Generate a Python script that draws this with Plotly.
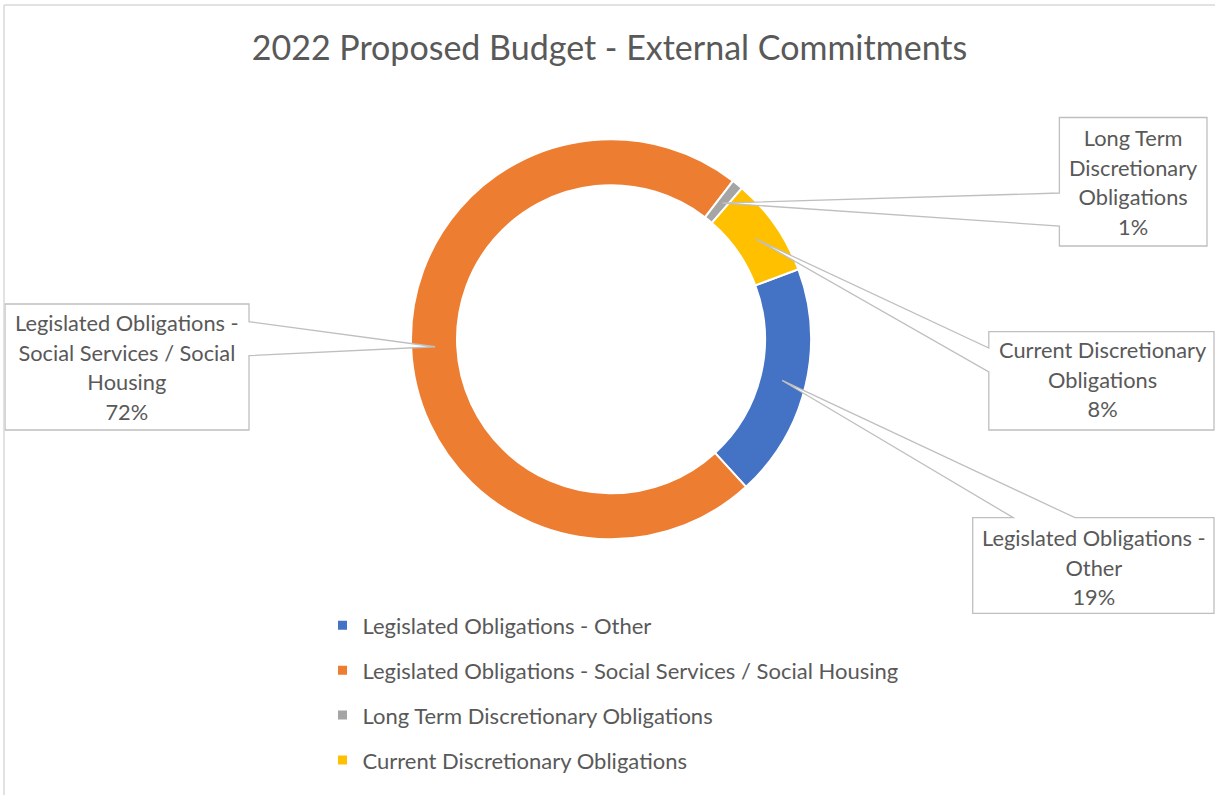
import math
import plotly.graph_objects as go

# ---------------- data ----------------
categories = [
    "Legislated Obligations - Other",
    "Legislated Obligations - Social Services / Social Housing",
    "Long Term Discretionary Obligations",
    "Current Discretionary Obligations",
]
shares = [18.9, 72.25, 0.92, 7.94]
colors = ["#4472C4", "#ED7D31", "#A5A5A5", "#FFC000"]
label_lines = [
    ["Legislated Obligations -", "Other"],
    ["Legislated Obligations -", "Social Services / Social", "Housing"],
    ["Long Term", "Discretionary", "Obligations"],
    ["Current Discretionary", "Obligations"],
]
title_text = "2022 Proposed Budget - External Commitments"

# ---------------- layout constants (pixels) ----------------
W, H = 1215, 795
CX, CY, R_OUT = 611, 339.3, 200
HOLE = 0.77
ROT = 69.5
R_TIP = 176
FONT = "Lato"
TXT = "#595959"
LINE = "#BFBFBF"

# callout boxes: (x0, y0, x1, y1), wedge side, wedge base coordinates, text centre
callouts = [
    dict(box=(972.7, 517.7, 1214, 613.3), side="top", base=(1013.3, 1075), center=(1094, 567)),
    dict(box=(5, 304, 249, 430), side="right", base=(321.7, 355.7), center=(127, 367)),
    dict(box=(1059.4, 117.5, 1207, 246), side="left", base=(193, 226), center=(1133, 182)),
    dict(box=(988.8, 331.6, 1214, 430), side="left", base=(348, 372), center=(1103, 379)),
]


def px(x):
    return x / W


def py(y):
    return 1 - y / H


fig = go.Figure()

fig.add_trace(go.Pie(
    labels=categories,
    values=shares,
    sort=False,
    direction="clockwise",
    rotation=ROT,
    hole=HOLE,
    marker=dict(colors=colors, line=dict(color="white", width=2)),
    textinfo="none",
    showlegend=False,
    domain=dict(x=[px(CX - R_OUT), px(CX + R_OUT)], y=[py(CY + R_OUT), py(CY - R_OUT)]),
))

# legend entries
for cat, col in zip(categories, colors):
    fig.add_trace(go.Scatter(
        x=[None], y=[None], mode="markers", name=cat, legendgroup=cat,
        marker=dict(symbol="square", size=9, color=col), showlegend=True, hoverinfo="skip",
    ))

# tips from data
total = sum(shares)
angle = ROT
shapes = []
annotations = []
for i, v in enumerate(shares):
    span = 360 * v / total
    mid = math.radians(angle + span / 2)
    angle += span
    tx = CX + R_TIP * math.sin(mid)
    ty = CY - R_TIP * math.cos(mid)
    c = callouts[i]
    x0, y0, x1, y1 = c["box"]
    b0, b1 = c["base"]
    if c["side"] == "right":
        pts = [(x0, y0), (x1, y0), (x1, b0), (tx, ty), (x1, b1), (x1, y1), (x0, y1)]
    elif c["side"] == "left":
        pts = [(x0, y0), (x1, y0), (x1, y1), (x0, y1), (x0, b1), (tx, ty), (x0, b0)]
    else:  # top
        pts = [(x0, y0), (b0, y0), (tx, ty), (b1, y0), (x1, y0), (x1, y1), (x0, y1)]
    path = "M " + " L ".join(f"{px(a):.5f},{py(b):.5f}" for a, b in pts) + " Z"
    shapes.append(dict(type="path", xref="paper", yref="paper", path=path,
                       line=dict(color=LINE, width=1.3), fillcolor="white", layer="above"))
    pct = round(v / total * 100)
    lines = label_lines[i] + [f"{pct}%"]
    text = "<br>".join(f"<span style='font-size:21.8px'>{ln}</span>" for ln in lines)
    cxp, cyp = c["center"]
    annotations.append(dict(x=px(cxp), y=py(cyp), xref="paper", yref="paper", text=text,
                            showarrow=False, xanchor="center", yanchor="middle", align="center",
                            font=dict(family=FONT, size=22.7, color=TXT)))

# chart frame (left and top edges visible)
shapes.append(dict(type="line", xref="paper", yref="paper", x0=px(4), x1=px(4), y0=py(5), y1=py(800),
                   line=dict(color="#D9D9D9", width=1.5)))
shapes.append(dict(type="line", xref="paper", yref="paper", x0=px(4), x1=px(1220), y0=py(5), y1=py(5),
                   line=dict(color="#D9D9D9", width=1.5)))

fig.update_layout(
    width=W, height=H,
    margin=dict(l=0, r=0, t=0, b=0),
    paper_bgcolor="white", plot_bgcolor="white",
    title=dict(text=title_text, x=px(609.5), xanchor="center", y=py(48), yanchor="middle",
               font=dict(family=FONT, size=34, color=TXT)),
    xaxis=dict(visible=False), yaxis=dict(visible=False),
    legend=dict(x=px(322.5), y=py(604.5), xanchor="left", yanchor="top",
                font=dict(family=FONT, size=22, color=TXT), tracegroupgap=13.3,
                bgcolor="rgba(0,0,0,0)", itemclick=False),
    shapes=shapes,
    annotations=annotations,
    showlegend=True,
)

fig.write_html("out.html", config={"displayModeBar": False},
               post_script="document.body.style.margin='0px';document.body.style.overflow='hidden';")
